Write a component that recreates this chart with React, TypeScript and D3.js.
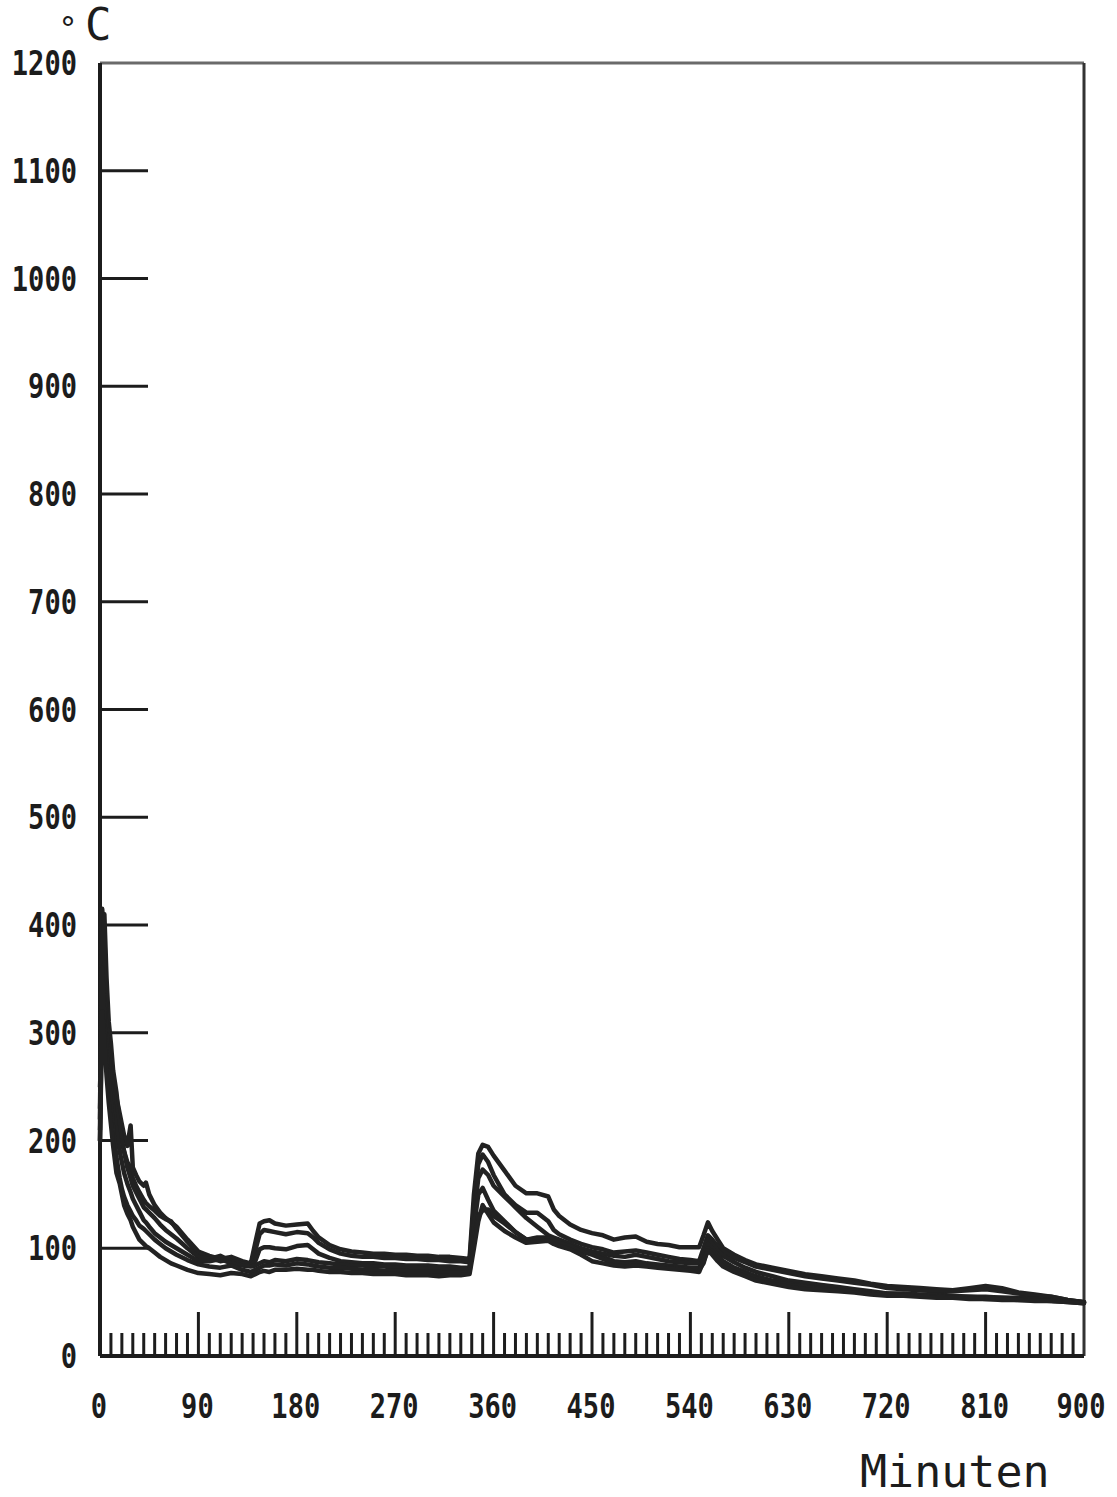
import React from "react";
import * as d3 from "d3";

const times = [
  0, 2, 4, 6, 8, 10, 12, 15, 18, 20,
  22, 25, 28, 30, 33, 36, 40, 42, 45, 50,
  55, 60, 65, 70, 80, 90, 100, 110, 120, 130,
  138, 142, 146, 150, 155, 160, 170, 180, 190, 195,
  200, 210, 220, 230, 240, 250, 260, 270, 280, 290,
  300, 310, 320, 330, 338, 342, 346, 350, 355, 360,
  370, 380, 390, 400, 410, 415, 420, 430, 440, 450,
  460, 470, 480, 490, 500, 510, 520, 530, 540, 548,
  552, 556, 560, 565, 570, 580, 590, 600, 615, 630,
  645, 660, 675, 690, 705, 720, 735, 750, 765, 780,
  795, 810, 825, 840, 855, 870, 885, 900,
];

const series1 = [
  210, 415, 390, 330, 300, 275, 255, 240, 225, 215,
  205, 195, 214, 175, 168, 162, 158, 161, 150, 140,
  133, 128, 124, 120, 108, 97, 93, 90, 92, 88,
  86, 105, 123, 125, 126, 123, 121, 122, 123, 116,
  110, 103, 99, 97, 96, 95, 95, 94, 94, 93,
  93, 92, 92, 91, 90, 150, 188, 196, 194, 186,
  172, 158, 151, 151, 148, 136, 130, 122, 117, 114,
  112, 108, 110, 111, 106, 104, 103, 101, 101, 101,
  112, 124, 116, 108, 100, 94, 89, 85, 82, 79,
  76, 74, 72, 70, 67, 65, 64, 63, 62, 61,
  63, 65, 63, 59, 57, 55, 52, 50,
];
const series2 = [
  230, 380, 410, 350, 310, 290, 265, 245, 215, 200,
  190, 180, 175, 165, 158, 152, 145, 142, 139, 135,
  130, 127, 125, 118, 106, 95, 91, 88, 90, 87,
  85, 98, 113, 117, 116, 115, 113, 115, 114, 110,
  105, 99, 95, 93, 92, 92, 91, 91, 90, 90,
  89, 89, 88, 88, 87, 140, 178, 187, 180, 168,
  150, 140, 133, 133, 125, 117, 113, 108, 104, 101,
  99, 96, 97, 98, 96, 94, 92, 90, 89, 88,
  100, 112, 108, 102, 97, 91, 87, 83, 80, 77,
  74, 72, 70, 68, 66, 63, 62, 61, 60, 60,
  61, 62, 60, 58, 56, 55, 52, 50,
];
const series3 = [
  200, 340, 365, 320, 290, 265, 245, 225, 210, 200,
  190, 175, 165, 158, 152, 146, 138, 136, 133, 128,
  122, 117, 113, 109, 100, 92, 90, 93, 88, 86,
  84, 88, 99, 101, 101, 100, 99, 102, 103, 99,
  95, 91, 88, 87, 86, 86, 85, 85, 84, 84,
  84, 83, 83, 82, 82, 130, 165, 173, 168, 158,
  148, 138, 128, 120, 112, 110, 108, 104, 100, 97,
  95, 93, 92, 94, 92, 90, 88, 87, 86, 86,
  96, 108, 104, 98, 93, 87, 82, 78, 74, 70,
  68, 66, 64, 62, 60, 58, 58, 57, 57, 56,
  55, 55, 54, 54, 53, 52, 51, 50,
];
const series4 = [
  250, 300, 335, 300, 275, 250, 230, 210, 190, 180,
  170, 160, 152, 146, 140, 134, 126, 124, 120, 114,
  110, 106, 103, 100, 94, 88, 88, 90, 86, 84,
  83, 84, 86, 88, 87, 89, 88, 90, 89, 88,
  87, 86, 85, 84, 84, 83, 83, 82, 82, 82,
  81, 81, 80, 80, 80, 120, 150, 156, 145, 135,
  125, 115, 108, 110, 110, 108, 106, 104, 99, 96,
  92, 88, 87, 88, 86, 85, 84, 83, 82, 82,
  90, 104, 100, 94, 88, 82, 78, 74, 70, 67,
  65, 63, 61, 60, 59, 58, 57, 56, 56, 55,
  55, 54, 54, 53, 53, 52, 51, 50,
];
const series5 = [
  220, 360, 310, 280, 255, 235, 210, 185, 165, 155,
  148, 140, 134, 130, 126, 121, 118, 116, 113, 108,
  104, 100, 97, 94, 89, 85, 83, 82, 84, 80,
  78, 80, 82, 84, 84, 85, 84, 86, 85, 84,
  83, 82, 82, 81, 80, 80, 79, 79, 79, 78,
  78, 78, 77, 77, 78, 110, 130, 135, 136, 130,
  123, 115, 108, 109, 109, 107, 105, 102, 97, 94,
  90, 87, 85, 86, 84, 83, 82, 81, 80, 80,
  86, 100, 97, 91, 86, 80, 76, 72, 69, 66,
  64, 62, 61, 60, 58, 57, 56, 56, 55, 54,
  54, 53, 53, 52, 52, 51, 50, 49,
];
const series6 = [
  200, 320, 290, 260, 235, 215, 195, 170, 160, 150,
  140, 132, 126, 120, 114, 108, 104, 102, 100, 96,
  92, 89, 86, 84, 80, 77, 76, 75, 77, 76,
  74, 76, 78, 79, 78, 80, 80, 81, 80, 80,
  79, 78, 78, 77, 77, 76, 76, 76, 75, 75,
  75, 74, 75, 75, 76, 100, 125, 140, 132, 124,
  116, 110, 105, 106, 107, 104, 102, 99, 94, 88,
  86, 84, 83, 84, 83, 82, 81, 80, 79, 78,
  88, 98, 94, 88, 83, 78, 74, 70, 67, 64,
  62, 61, 60, 59, 57, 56, 56, 55, 54, 54,
  53, 53, 52, 52, 51, 51, 50, 49,
];

const allSeries = [series1, series2, series3, series4, series5, series6];

const yTickValues = [0, 100, 200, 300, 400, 500, 600, 700, 800, 900, 1000, 1100, 1200];
const xLabelValues = [0, 90, 180, 270, 360, 450, 540, 630, 720, 810, 900];
const xLabel = "Minuten";
const yUnit = "C";

const W = 1117;
const H = 1497;
const X0 = 100;
const X1 = 1084;
const Y0 = 1356;
const Y1 = 63;

export default function App() {
  const x = d3.scaleLinear().domain([0, 900]).range([X0, X1]);
  const y = d3.scaleLinear().domain([0, 1200]).range([Y0, Y1]);
  const line = d3
    .line<number>()
    .x((_, i) => x(times[i]))
    .y((v) => y(v));

  const minorTicks = d3.range(10, 900, 10).filter((t) => t % 90 !== 0);
  const majorTicks = d3.range(90, 900, 90);
  const ink = "#1c1c1c";
  const numFont = "'DejaVu Sans Mono', monospace";

  return (
    <svg
      width={W}
      height={H}
      style={{ position: "absolute", left: 0, top: 0, background: "#fff" }}
    >
      {/* frame */}
      <line x1={X0} x2={X1} y1={Y1} y2={Y1} stroke="#6a6a6a" strokeWidth={3} />
      <line x1={X1} x2={X1} y1={Y1} y2={Y0} stroke="#333" strokeWidth={3} />
      <line x1={X0} x2={X0} y1={Y1} y2={Y0} stroke={ink} strokeWidth={4} />
      <line x1={X0} x2={X1} y1={Y0} y2={Y0} stroke={ink} strokeWidth={4} />

      {/* y ticks */}
      {yTickValues
        .filter((v) => v > 0 && v < 1200)
        .map((v) => (
          <line key={"yt" + v} x1={X0} x2={X0 + 48} y1={y(v)} y2={y(v)} stroke={ink} strokeWidth={3} />
        ))}
      {yTickValues.map((v) => {
        const s = String(v);
        return (
          <text
            key={"yl" + v}
            x={77}
            y={y(v) + 12}
            textAnchor="end"
            fontFamily={numFont}
            fontWeight="bold"
            fontSize={34}
            textLength={s.length * 16.3}
            lengthAdjust="spacingAndGlyphs"
            fill={ink}
          >
            {s}
          </text>
        );
      })}

      {/* x ticks */}
      {minorTicks.map((t) => (
        <line key={"mt" + t} x1={x(t)} x2={x(t)} y1={Y0} y2={Y0 - 23} stroke={ink} strokeWidth={3} />
      ))}
      {majorTicks.map((t) => (
        <line key={"Mt" + t} x1={x(t)} x2={x(t)} y1={Y0} y2={Y0 - 44} stroke={ink} strokeWidth={3} />
      ))}
      {xLabelValues.map((t) => {
        const s = String(t);
        return (
          <text
            key={"xl" + t}
            x={t === 900 ? x(t) - 3 : x(t) - 1}
            y={1418}
            textAnchor="middle"
            fontFamily={numFont}
            fontWeight="bold"
            fontSize={34}
            textLength={s.length * 16.3}
            lengthAdjust="spacingAndGlyphs"
            fill={ink}
          >
            {s}
          </text>
        );
      })}

      {/* series */}
      {allSeries.map((s, i) => (
        <path
          key={"s" + i}
          d={line(s) || ""}
          fill="none"
          stroke="#222"
          strokeWidth={4.5}
          strokeLinejoin="round"
          strokeLinecap="round"
        />
      ))}

      {/* axis titles */}
      <text x={60} y={40} fill={ink}>
        <tspan fontFamily="'DejaVu Sans', sans-serif" fontSize={32}>°</tspan>
        <tspan fontFamily="'DejaVu Sans Mono', monospace" fontSize={44} dx={9}>{yUnit}</tspan>
      </text>
      <text x={860} y={1487} fontFamily="'DejaVu Sans Mono', monospace" fontSize={45} fill={ink}>
        {xLabel}
      </text>
    </svg>
  );
}
